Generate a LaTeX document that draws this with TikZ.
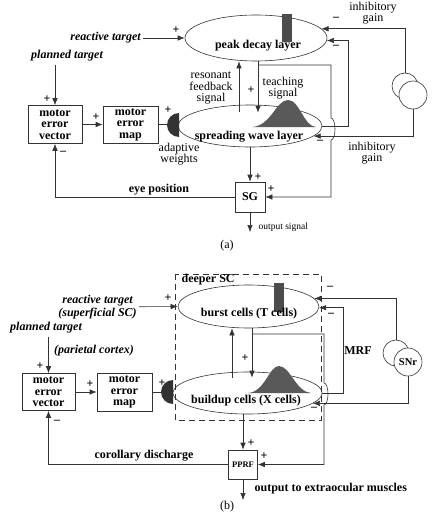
\documentclass[tikz,border=0pt]{standalone}
\usepackage{fontspec}
\setmainfont{Liberation Serif}
\usetikzlibrary{arrows.meta,shapes.geometric}

\begin{document}
\begin{tikzpicture}[x=1pt,y=-1pt,line width=0.6pt,black!80,
	arr/.style={-{Latex[length=7pt,width=5.5pt]}},
	bt/.style={font=\fontsize{12}{11.5}\selectfont\bfseries,align=center,text=black},
	bi/.style={font=\fontsize{12}{12.5}\selectfont\bfseries\itshape,align=center,text=black},
	rg/.style={font=\fontsize{12}{11.5}\selectfont,align=center,text=black},
	pm/.style={font=\fontsize{12}{12}\selectfont\bfseries,inner sep=0pt,text=black},
	layer/.style={ellipse,draw,inner sep=0pt},
	blk/.style={bt,draw,inner sep=0pt}]
		\useasboundingbox (0,0) rectangle (434,524);
		\node[layer,minimum width=142pt,minimum height=46pt] (pdl) at (256,38) {};
		\fill[black!70] (282,14) rectangle (292,42);
		\node[bt] (pdlt) at (258,46) {peak decay layer};
		\node[layer,minimum width=144pt,minimum height=42pt] (swl) at (250,126) {};
		\fill[black!65] (252,127) .. controls (271,126) and (276,100) .. (288,100) .. controls (300,100) and (303,126) .. (316,127) -- cycle;
		\node[bt] (swlt) at (249,137) {spreading wave layer};
		\node[bi,anchor=east,inner sep=2pt] (rt) at (143,38) {reactive target};
		\node[bi] (pt) at (67,56) {planned target};
		\node[blk,minimum width=54pt,minimum height=38pt] (mev) at (55,124.5) {motor\\error\\vector};
		\node[blk,minimum width=55pt,minimum height=37pt] (mem) at (130.5,124.5) {motor\\error\\map};
		\node[blk,minimum size=30pt] (sg) at (250,197) {SG};
		\node[circle,draw,minimum size=26pt,inner sep=0pt] (c1) at (405,86) {};
		\node[circle,draw,fill=white,minimum size=28pt,inner sep=0pt] (c2) at (413,95) {};
		\coordinate (aw1) at (167,124.5);
		\coordinate (tap) at (258,65);
		\coordinate (so) at (250,232);
		\fill (179,113) arc[start angle=90,end angle=270,radius=12pt] -- cycle;
		\draw[arr] (rt) -- (pdl.west);
		\draw[arr] (c1.north) |- (pdl.8);
		\draw[arr] (swl.east) -- ++(26,0) |- (pdl.-2);
		\draw[arr] (c2.south) |- (swl.-9);
		\draw[arr] ([xshift=2pt]pdl.south) -- ([shift={(8pt,-8pt)}]swl.north);
		\draw[arr] ([shift={(-11pt,-7pt)}]swl.north) -- ([xshift=-17pt]pdl.south);
		\draw[arr] (tap) -| (331,118) arc[start angle=90,end angle=-90,x radius=4pt,y radius=11pt] |- (sg.east);
		\draw[arr] (swl.south) -- (sg.north);
		\draw[arr] (sg.south) -- (so);
		\draw[arr] (sg.west) -| (mev.south);
		\draw[arr] (pt.south -| mev.north) -- (mev.north);
		\draw[arr] (mev) -- (mem);
		\draw (mem.east) -- (aw1);
		\node[rg] (rfs) at (211,88) {resonant\\feedback\\signal};
		\node[rg] (ts) at (283,88) {teaching\\signal};
		\node[rg] (aw) at (179,154) {adaptive\\weights};
		\node[rg] (ig1) at (373,13) {inhibitory\\gain};
		\node[rg] (ig2) at (372,153) {inhibitory\\gain};
		\node[bt] (ep) at (159,190) {eye position};
		\node[rg,anchor=west,font=\fontsize{9.5}{10}\selectfont] (os) at (255,227) {output signal};
		\node[rg] (la) at (227,246) {(a)};
		\node[pm] (a1) at (176,30) {+};
		\node[pm] (a2) at (336,19) {--};
		\node[pm] (a3) at (336,47) {--};
		\node[pm] (a4) at (251,90) {+};
		\node[pm] (a5) at (320,142) {--};
		\node[pm] (a6) at (258,177) {+};
		\node[pm] (a7) at (271,189) {+};
		\node[pm] (a8) at (63,153) {--};
		\node[pm] (a9) at (47,99) {+};
		\node[pm] (a10) at (96,117) {+};
		\node[pm] (a11) at (168,110) {+};
		\draw[dashed,dash pattern=on 6pt off 4pt] (175,274) rectangle (321,420);
		\node[bt,anchor=west] (dsc) at (178,280) {deeper SC};
		\node[layer,minimum width=141pt,minimum height=43pt] (bc) at (248.5,306.5) {};
		\fill[black!70] (274,283) rectangle (284,312);
		\node[bt] (bct) at (249,314) {burst cells (T cells)};
		\node[layer,minimum width=149pt,minimum height=42pt] (bu) at (247.5,393) {};
		\fill[black!65] (248,393) .. controls (265,392) and (269,366) .. (279,366) .. controls (290,366) and (296,392) .. (311,393) -- cycle;
		\node[bt] (but) at (246,401) {buildup cells (X cells)};
		\node[bi,anchor=east,inner sep=2pt] (rt2) at (139,307) {reactive target\\(superficial SC)};
		\node[bi] (pt2) at (46,328) {planned target};
		\node[bi] (pc) at (94,351) {(parietal cortex)};
		\node[blk,minimum width=53pt,minimum height=37pt] (mev2) at (48.5,392) {motor\\error\\vector};
		\node[blk,minimum width=55pt,minimum height=38pt] (mem2) at (124.5,392) {motor\\error\\map};
		\node[blk,minimum size=29pt,font=\fontsize{8.5}{9}\selectfont\bfseries] (pprf) at (243,464.5) {PPRF};
		\node[circle,draw,minimum size=26pt,inner sep=0pt] (c3) at (396,353) {};
		\node[circle,draw,fill=white,minimum size=28pt,inner sep=0pt,bt,font=\fontsize{10.5}{11}\selectfont\bfseries] (c4) at (408,362) {SNr};
		\coordinate (aw2) at (161,392);
		\coordinate (tap2) at (252,334);
		\coordinate (po) at (243,500);
		\fill (173,380) arc[start angle=90,end angle=270,radius=12pt] -- cycle;
		\draw[arr] (rt2) -- (bc.west);
		\draw[arr] (c3.north) |- (bc.7);
		\draw[arr] (bu.east) -- ++(21,0) |- (bc.-1);
		\draw[arr] (c4.south) |- (bu.-9);
		\draw[arr] ([xshift=3.5pt]bc.south) -- ([shift={(4.5pt,-6pt)}]bu.north);
		\draw[arr] ([shift={(-15.5pt,-6pt)}]bu.north) -- ([xshift=-16.5pt]bc.south);
		\draw[arr] (tap2) -| (324,383) arc[start angle=90,end angle=-90,x radius=4pt,y radius=11pt] |- (pprf.east);
		\draw[arr] (bu.south -| pprf.north) -- (pprf.north);
		\draw[arr] (pprf.south) -- (po);
		\draw[arr] (pprf.west) -| (mev2.south);
		\draw[arr] (pt2.south -| mev2.north) -- (mev2.north);
		\draw[arr] (mev2) -- (mem2);
		\draw (mem2.east) -- (aw2);
		\node[bt] (mrf) at (358,351) {MRF};
		\node[bt] (cd) at (144,456) {corollary discharge};
		\node[bt,anchor=west] (oe) at (251,489) {output to extraocular muscles};
		\node[rg] (lb) at (227,507) {(b)};
		\node[pm] (b1) at (168,298) {+};
		\node[pm] (b2) at (330,288) {--};
		\node[pm] (b3) at (331,315) {--};
		\node[pm] (b4) at (245,358) {+};
		\node[pm] (b5) at (314,409) {--};
		\node[pm] (b6) at (251,443) {+};
		\node[pm] (b7) at (264,456) {+};
		\node[pm] (b8) at (57,422) {--};
		\node[pm] (b9) at (40,366) {+};
		\node[pm] (b10) at (90,384) {+};
		\node[pm] (b11) at (162,383) {+};
	\end{tikzpicture}
\end{document}
